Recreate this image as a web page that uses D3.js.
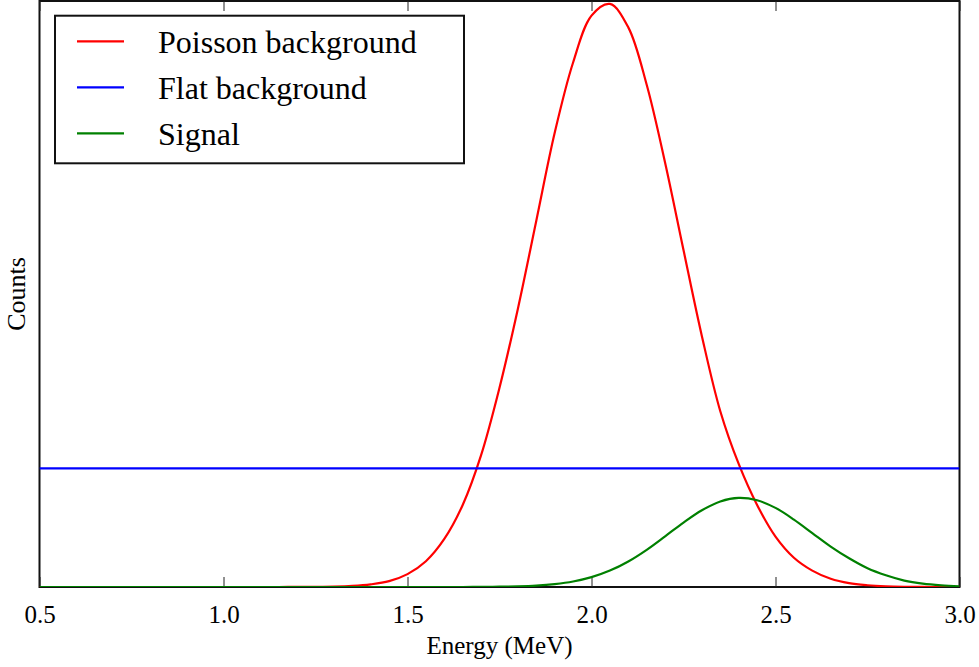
<!DOCTYPE html>
<html>
<head>
<meta charset="utf-8">
<script src="https://cdn.jsdelivr.net/npm/d3@7"></script>
<style>
  body { margin: 0; background: #fff; }
  text { font-family: "Liberation Serif", "Times New Roman", serif; fill: #000; }
</style>
</head>
<body>
<svg id="chart" width="979" height="667"></svg>
<script>
// energy grid (MeV)
const energy = [0.50,0.55,0.60,0.65,0.70,0.75,0.80,0.85,0.90,0.95,
  1.00,1.05,1.10,1.15,1.20,1.25,1.30,1.35,1.40,1.45,
  1.50,1.55,1.60,1.65,1.70,1.75,1.80,1.85,1.90,1.95,
  2.00,2.05,2.10,2.15,2.20,2.25,2.30,2.35,2.40,2.45,
  2.50,2.55,2.60,2.65,2.70,2.75,2.80,2.85,2.90,2.95,3.00];

// counts (arbitrary units)
const poissonBg = [0,0,0,0,0,0,0,0,0,0,
  0,0,0,0,0.0001,0.0002,0.0006,0.0018,0.0045,0.010,
  0.022,0.044,0.082,0.140,0.225,0.340,0.475,0.625,0.775,0.895,
  0.975,0.995,0.955,0.857,0.724,0.575,0.428,0.300,0.210,0.140,
  0.086,0.050,0.028,0.014,0.0065,0.003,0.0012,0.0004,0.0001,0,0];

const signal = [0,0,0,0,0,0,0,0,0,0,
  0,0,0,0,0,0,0,0,0,0,
  0,0,0,0,0.0002,0.0005,0.0011,0.0024,0.0050,0.0094,
  0.0168,0.028,0.0436,0.0635,0.0865,0.110,0.131,0.146,0.152,0.148,
  0.135,0.115,0.092,0.069,0.049,0.032,0.020,0.011,0.0058,0.0029,0.0013];

const flatEnergy = [0.5, 3.0];
const flatBg = [0.2025, 0.2025];

const xTicks = [0.5, 1.0, 1.5, 2.0, 2.5, 3.0];

const seriesNames = ["Poisson background", "Flat background", "Signal"];
const seriesColors = ["#ff0000", "#0000ff", "#008000"];

const svg = d3.select("#chart");
const m = { left: 39.5, right: 959.5, top: 1, bottom: 587 };

const x = d3.scaleLinear().domain([0.5, 3.0]).range([m.left, m.right]);
const y = d3.scaleLinear().domain([0, 1]).range([m.bottom, m.top]);

svg.append("defs").append("clipPath").attr("id", "plotclip")
  .append("rect").attr("x", m.left).attr("y", m.top)
  .attr("width", m.right - m.left).attr("height", m.bottom - m.top);

// frame
svg.append("rect")
  .attr("x", m.left).attr("y", m.top)
  .attr("width", m.right - m.left).attr("height", m.bottom - m.top)
  .attr("fill", "none").attr("stroke", "#111").attr("stroke-width", 2);

// inward ticks bottom & top
const bAxis = svg.append("g").attr("transform", `translate(0,${m.bottom})`)
  .call(d3.axisBottom(x).tickValues(xTicks).tickSizeInner(-10).tickSizeOuter(0)
    .tickPadding(18).tickFormat(d3.format(".1f")));
bAxis.select(".domain").remove();
bAxis.selectAll(".tick line").attr("stroke", "#222").attr("stroke-width", 1);
bAxis.selectAll(".tick text").attr("font-size", 25)
  .attr("font-family", "Liberation Serif").attr("fill", "#000");

const tAxis = svg.append("g").attr("transform", `translate(0,${m.top})`)
  .call(d3.axisTop(x).tickValues(xTicks).tickSizeInner(-10).tickSizeOuter(0).tickFormat(""));
tAxis.select(".domain").remove();
tAxis.selectAll(".tick line").attr("stroke", "#222").attr("stroke-width", 1);

// curves
const plot = svg.append("g").attr("clip-path", "url(#plotclip)");
const line = d3.line()
  .x(d => x(d[0])).y(d => y(d[1]))
  .curve(d3.curveCatmullRom.alpha(0.5));

const seriesData = [
  d3.zip(energy, poissonBg),
  d3.zip(flatEnergy, flatBg),
  d3.zip(energy, signal)
];

plot.selectAll("path.curve")
  .data(seriesData)
  .enter().append("path")
  .attr("class", "curve")
  .attr("d", line)
  .attr("fill", "none")
  .attr("stroke", (d, i) => seriesColors[i])
  .attr("stroke-width", 2.2);

// axis labels
svg.append("text")
  .attr("x", (m.left + m.right) / 2).attr("y", 654)
  .attr("text-anchor", "middle").attr("font-size", 25)
  .text("Energy (MeV)");

svg.append("text")
  .attr("transform", `translate(25,${(m.top + m.bottom) / 2}) rotate(-90)`)
  .attr("text-anchor", "middle").attr("font-size", 26)
  .text("Counts");

// legend
const legend = svg.append("g");
legend.append("rect")
  .attr("x", 55).attr("y", 15.7).attr("width", 409).attr("height", 147.6)
  .attr("fill", "#fff").attr("stroke", "#111").attr("stroke-width", 2);

const rows = legend.selectAll("g.row")
  .data(seriesNames)
  .enter().append("g")
  .attr("class", "row")
  .attr("transform", (d, i) => `translate(0,${41.3 + i * 46})`);

rows.append("line")
  .attr("x1", 77).attr("x2", 124).attr("y1", 0).attr("y2", 0)
  .attr("stroke", (d, i) => seriesColors[i]).attr("stroke-width", 2.2);

rows.append("text")
  .attr("x", 158).attr("y", 12)
  .attr("font-size", 32)
  .text(d => d);
</script>
</body>
</html>
